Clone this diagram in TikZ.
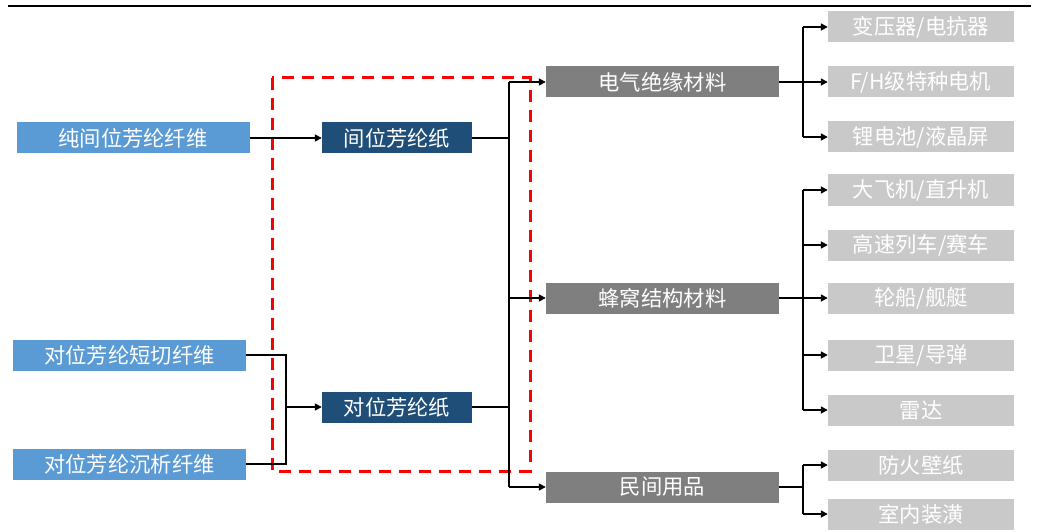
\documentclass[tikz,border=0pt]{standalone}
\usepackage{fontspec}
\newfontfamily\cjk{Noto Sans CJK SC}
\usetikzlibrary{arrows.meta}
\definecolor{srcblue}{HTML}{5B9BD5}
\definecolor{paperblue}{HTML}{1F4E79}
\definecolor{midgray}{HTML}{7F7F7F}
\definecolor{leafgray}{HTML}{C9C9C9}
\begin{document}
\begin{tikzpicture}[x=1pt,y=-1pt,
  box/.style={minimum height=31pt, inner sep=0pt, text=white, anchor=center,
    font=\cjk\fontsize{21.3}{25}\selectfont},
  srcbox/.style={box, fill=srcblue, minimum width=233pt},
  paperbox/.style={box, fill=paperblue, minimum width=150pt},
  midbox/.style={box, fill=midgray, minimum width=233pt},
  leafbox/.style={box, fill=leafgray, minimum width=186pt},
  link/.style={line width=1.6pt, black},
  arr/.style={link, -{Triangle[length=7pt,width=7pt]}},
  redbox/.style={red, line width=3pt, dash pattern=on 12pt off 8pt}
]
\useasboundingbox (0,0) rectangle (1039,532);
\fill[white] (0,0) rectangle (1039,532);
\draw[line width=2.8pt] (8,6) -- (1031,6);

% nodes
\node[srcbox] (s1) at (133,138) {纯间位芳纶纤维};
\node[srcbox] (s2) at (129.5,355) {对位芳纶短切纤维};
\node[srcbox] (s3) at (129.5,464) {对位芳纶沉析纤维};
\node[paperbox] (p1) at (397,138) {间位芳纶纸};
\node[paperbox] (p2) at (397,407) {对位芳纶纸};
\node[midbox] (m1) at (662.5,82) {电气绝缘材料};
\node[midbox] (m2) at (662.5,298) {蜂窝结构材料};
\node[midbox] (m3) at (662.5,487) {民间用品};
\node[leafbox] (l1) at (921,27) {变压器/电抗器};
\node[leafbox] (l2) at (921,82) {F/H级特种电机};
\node[leafbox] (l3) at (921,137) {锂电池/液晶屏};
\node[leafbox] (l4) at (921,190) {大飞机/直升机};
\node[leafbox] (l5) at (921,245) {高速列车/赛车};
\node[leafbox] (l6) at (921,298) {轮船/舰艇};
\node[leafbox] (l7) at (921,355) {卫星/导弹};
\node[leafbox] (l8) at (921,410) {雷达};
\node[leafbox] (l9) at (921,465) {防火壁纸};
\node[leafbox] (l10) at (921,514) {室内装潢};

% red dashed box
\draw[redbox] (272,78) rectangle (530,471);

% bus coordinates
\coordinate (j1) at (286,0);
\coordinate (b1) at (509,0);
\coordinate (b2) at (803,0);

% connectors
\draw[arr] (s1.east) -- (p1.west);
\draw[link] (s2.east) -- (s2.east -| j1) -- (s3.east -| j1) -- (s3.east);
\draw[arr] (p2.west -| j1) -- (p2.west);

\draw[link] (p1.east) -- (p1.east -| b1);
\draw[link] (p2.east) -- (p2.east -| b1);
\draw[link] (m1.west -| b1) -- (m3.west -| b1);
\draw[arr] (m1.west -| b1) -- (m1.west);
\draw[arr] (m2.west -| b1) -- (m2.west);
\draw[arr] (m3.west -| b1) -- (m3.west);

\draw[link] (m1.east) -- (m1.east -| b2);
\draw[link] (l1.west -| b2) -- (l3.west -| b2);
\foreach \l in {l1,l2,l3} \draw[arr] (\l.west -| b2) -- (\l.west);

\draw[link] (m2.east) -- (m2.east -| b2);
\draw[link] (l4.west -| b2) -- (l8.west -| b2);
\foreach \l in {l4,l5,l6,l7,l8} \draw[arr] (\l.west -| b2) -- (\l.west);

\draw[link] (m3.east) -- (m3.east -| b2);
\draw[link] (l9.west -| b2) -- (l10.west -| b2);
\foreach \l in {l9,l10} \draw[arr] (\l.west -| b2) -- (\l.west);
\end{tikzpicture}
\end{document}
